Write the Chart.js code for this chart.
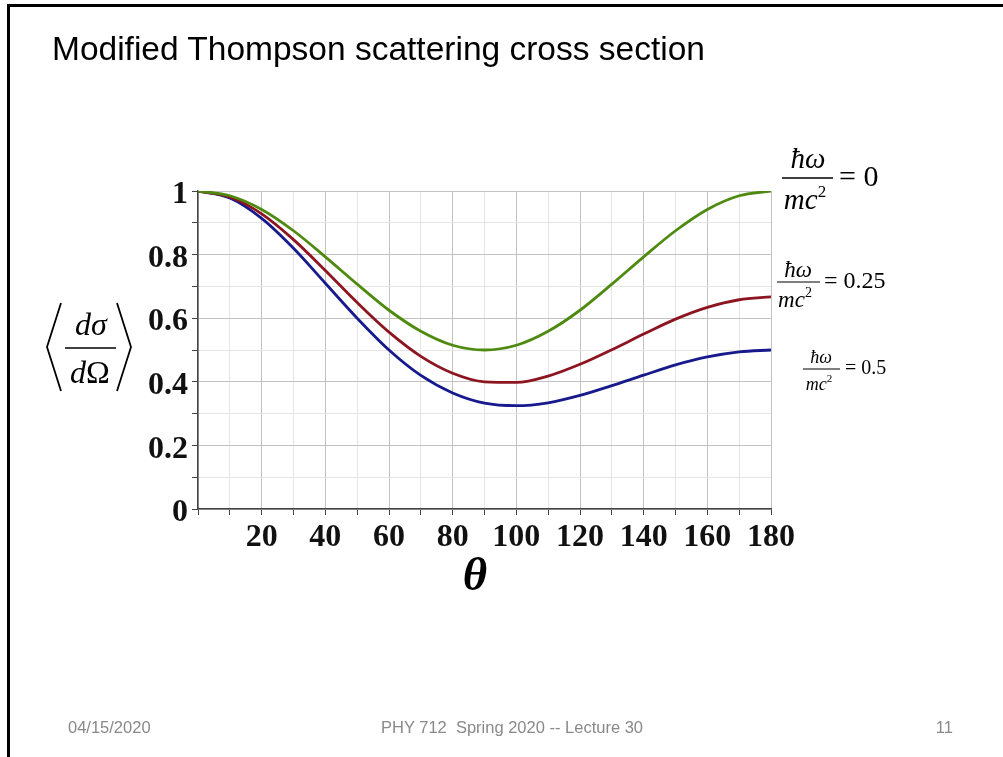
<!DOCTYPE html>
<html>
<head>
<meta charset="utf-8">
<script src="https://cdn.jsdelivr.net/npm/chart.js@4.4.1/dist/chart.umd.min.js"></script>
<style>
  html, body { margin: 0; padding: 0; background: #fff; }
  #page { position: relative; width: 1003px; height: 757px; overflow: hidden; }
  #frame { position: absolute; left: 7px; top: 4px; width: 1100px; height: 900px;
           border-top: 3px solid #000; border-left: 3px solid #000; }
  #chart { position: absolute; left: 0; top: 0; }
  #overlay { position: absolute; left: 0; top: 0; pointer-events: none; }
  .serif { font-family: "Liberation Serif", "Times New Roman", serif; }
  .sans { font-family: "Liberation Sans", Arial, sans-serif; }
</style>
</head>
<body>
<div id="page">
  <div id="frame"></div>
  <canvas id="chart" width="1003" height="757"></canvas>
  <svg id="overlay" width="1003" height="757" xmlns="http://www.w3.org/2000/svg">
    <text class="sans" x="52" y="60" font-size="33.5" fill="#000">Modified Thompson scattering cross section</text>

    <!-- y axis title: <dsigma/dOmega> -->
    <g class="serif" font-style="italic" font-size="32" fill="#000">
      <text x="91" y="335" text-anchor="middle">d&#963;</text>
      <text x="90" y="383" text-anchor="middle">d<tspan font-style="normal">&#937;</tspan></text>
    </g>
    <line x1="65" y1="348" x2="116" y2="348" stroke="#000" stroke-width="1.6"/>
    <polyline points="61,303 47,347 61,391" fill="none" stroke="#000" stroke-width="1.8"/>
    <polyline points="117,303 131,347 117,391" fill="none" stroke="#000" stroke-width="1.8"/>

    <!-- x axis title -->
    <text class="serif" x="475" y="590" font-size="47" font-weight="bold" font-style="italic" text-anchor="middle">&#952;</text>

    <!-- curve labels -->
    <g class="serif" fill="#000">
      <text x="808" y="168" font-size="29" font-style="italic" text-anchor="middle">&#295;&#969;</text>
      <line x1="782" y1="178" x2="833" y2="178" stroke="#000" stroke-width="1.4"/>
      <text x="805" y="209" font-size="29" font-style="italic" text-anchor="middle">mc<tspan font-size="17" font-style="normal" dy="-12">2</tspan></text>
      <text x="839" y="186" font-size="30">= 0</text>

      <text x="798" y="277" font-size="23" font-style="italic" text-anchor="middle">&#295;&#969;</text>
      <line x1="777" y1="282" x2="820" y2="282" stroke="#000" stroke-width="1.2"/>
      <text x="795" y="307" font-size="23" font-style="italic" text-anchor="middle">mc<tspan font-size="14" font-style="normal" dy="-10">2</tspan></text>
      <text x="824" y="288" font-size="24">= 0.25</text>

      <text x="821" y="363" font-size="18" font-style="italic" text-anchor="middle">&#295;&#969;</text>
      <line x1="803" y1="369" x2="840" y2="369" stroke="#000" stroke-width="1"/>
      <text x="819" y="390" font-size="18" font-style="italic" text-anchor="middle">mc<tspan font-size="11" font-style="normal" dy="-8">2</tspan></text>
      <text x="845" y="374" font-size="20">= 0.5</text>
    </g>

    <!-- footer -->
    <g class="sans" font-size="16.5" fill="#898989">
      <text x="68" y="733">04/15/2020</text>
      <text x="381" y="733" style="white-space: pre">PHY 712  Spring 2020 -- Lecture 30</text>
      <text x="953" y="733" text-anchor="end">11</text>
    </g>
  </svg>
</div>
<script>
// scattering angle in degrees
const thetaDeg = [0, 10, 20, 30, 40, 50, 60, 70, 80, 90, 100, 110, 120, 130, 140, 150, 160, 170, 180];
// <dsigma/dOmega>, one list per hbar*omega/mc^2 value
const ratio0 = [1.000, 0.985, 0.942, 0.875, 0.793, 0.707, 0.625, 0.559, 0.515, 0.500, 0.515, 0.559, 0.625, 0.707, 0.793, 0.875, 0.942, 0.985, 1.000];
const ratio025 = [1.000, 0.981, 0.928, 0.847, 0.750, 0.649, 0.556, 0.480, 0.427, 0.400, 0.398, 0.418, 0.455, 0.501, 0.550, 0.597, 0.634, 0.658, 0.667];
const ratio05 = [1.000, 0.978, 0.914, 0.820, 0.710, 0.600, 0.500, 0.420, 0.365, 0.333, 0.325, 0.334, 0.357, 0.388, 0.421, 0.453, 0.478, 0.494, 0.500];
const seriesNames = ['hw/mc2 = 0', 'hw/mc2 = 0.25', 'hw/mc2 = 0.5'];
const seriesColors = ['#4f8a10', '#8c1520', '#171a8c'];

const xTickLabels = ['20', '40', '60', '80', '100', '120', '140', '160', '180'];
const yTickLabels = ['0', '0.2', '0.4', '0.6', '0.8', '1'];

const toPoints = vals => thetaDeg.map((t, i) => ({ x: t, y: vals[i] }));

const tickFont = { family: 'Liberation Serif', size: 32, weight: 'bold' };
const majorGrid = '#c2c2c2';
const minorGrid = '#e5e5e5';

const ctx = document.getElementById('chart').getContext('2d');
new Chart(ctx, {
    type: 'line',
    data: {
        datasets: [ratio0, ratio025, ratio05].map((vals, i) => ({
            label: seriesNames[i],
            data: toPoints(vals),
            borderColor: seriesColors[i],
            borderWidth: 2.8,
            pointRadius: 0,
            fill: false,
            cubicInterpolationMode: 'monotone'
        }))
    },
    options: {
        responsive: false,
        animation: false,
        layout: { padding: { left: 0, top: 191, right: 232, bottom: 0 } },
        plugins: { legend: { display: false }, tooltip: { enabled: false } },
        scales: {
            x: {
                type: 'linear',
                min: 0,
                max: 180,
                afterFit: scale => { scale.height = 248; },
                ticks: {
                    stepSize: 10,
                    autoSkip: false,
                    maxRotation: 0,
                    padding: 4,
                    color: '#111',
                    font: tickFont,
                    callback: v => (xTickLabels.includes(String(v)) ? String(v) : '')
                },
                grid: {
                    color: c => (c.tick && c.tick.value % 20 === 0 ? majorGrid : minorGrid),
                    lineWidth: 1,
                    tickLength: 6,
                    tickColor: '#444'
                },
                border: { color: '#444', width: 1.5 }
            },
            y: {
                min: 0,
                max: 1,
                afterFit: scale => { scale.width = 198; },
                ticks: {
                    stepSize: 0.1,
                    autoSkip: false,
                    padding: 4,
                    labelOffset: 4,
                    color: '#111',
                    font: tickFont,
                    callback: v => {
                        const k = Math.round(v * 10);
                        return k % 2 === 0 ? yTickLabels[k / 2] : '';
                    }
                },
                grid: {
                    color: c => (c.tick && Math.round(c.tick.value * 10) % 2 === 0 ? majorGrid : minorGrid),
                    lineWidth: 1,
                    tickLength: 6,
                    tickColor: '#444'
                },
                border: { color: '#444', width: 1.5 }
            }
        }
    }
});
</script>
</body>
</html>
